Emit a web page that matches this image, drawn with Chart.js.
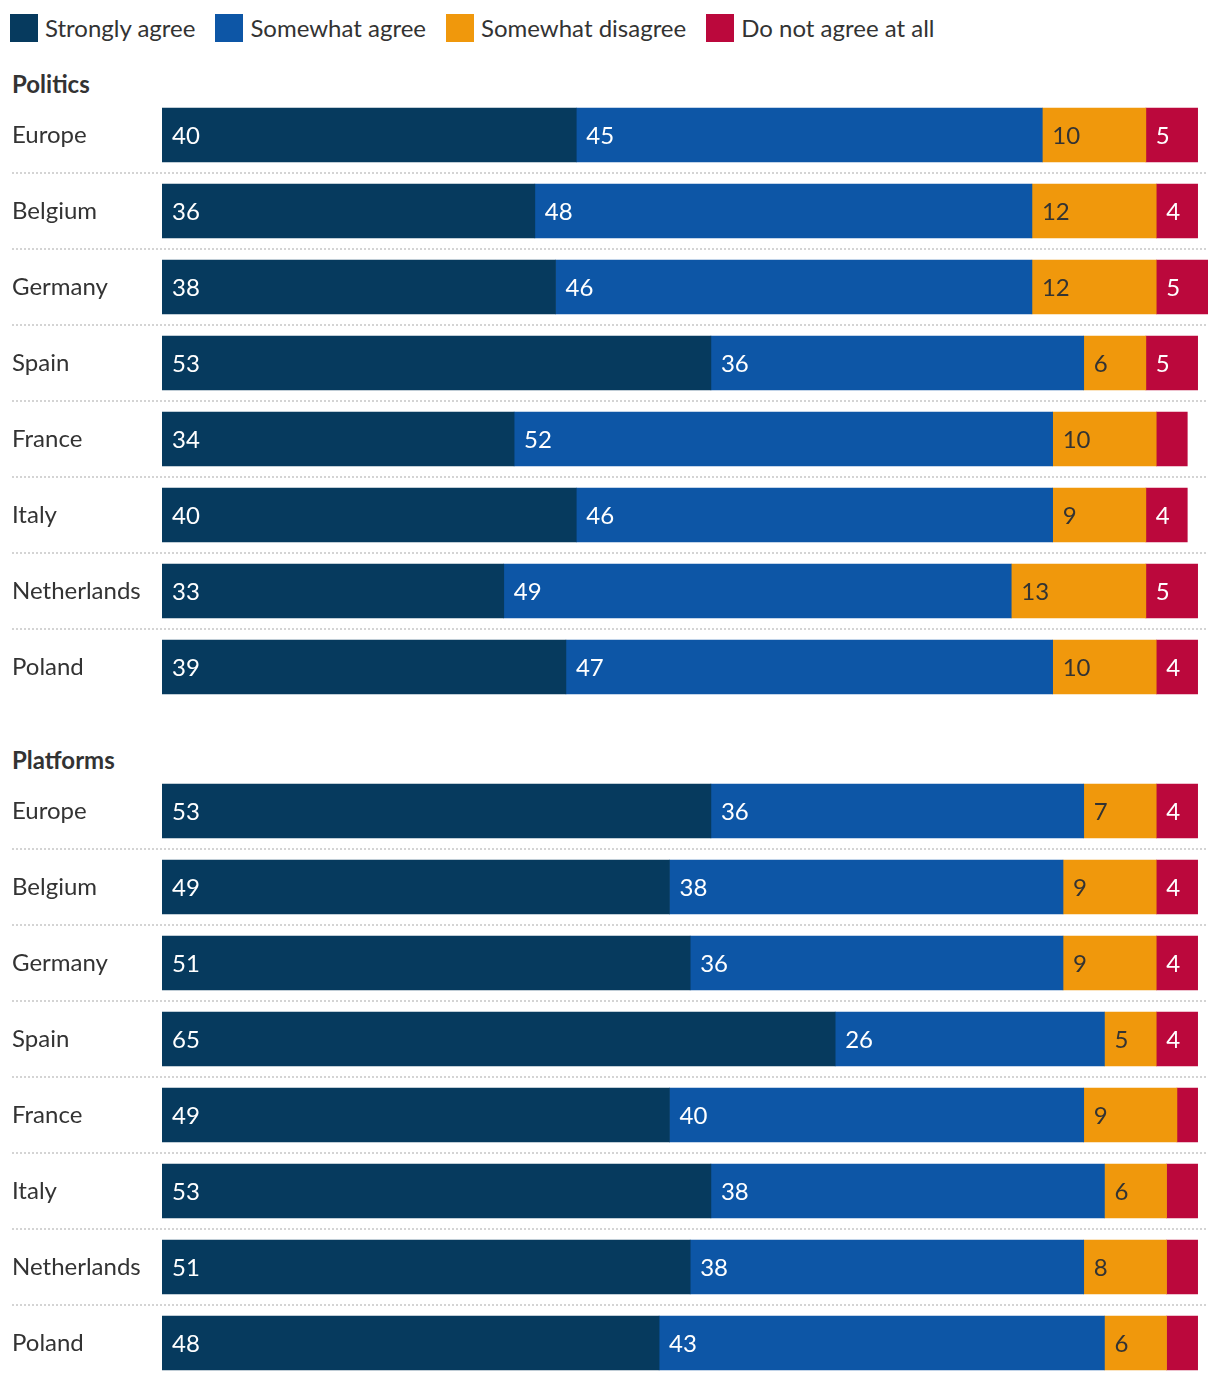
<!DOCTYPE html>
<html>
<head>
<meta charset="utf-8">
<script src="https://cdn.jsdelivr.net/npm/chart.js@4"></script>
<style>
  body { margin: 0; background: #fff; font-family: Lato, sans-serif; color: #333; }
  #page { position: relative; width: 1220px; height: 1382px; }
  #legend { position: absolute; left: 10px; top: 14px; display: flex; }
  .item { display: flex; align-items: center; margin-right: 20px; font-size: 24px; line-height: 28px; }
  .box { width: 28px; height: 28px; margin-right: 7px; }
  .head { position: absolute; left: 12px; font-weight: bold; font-size: 24px; line-height: 28px; }
  .wrap { position: absolute; left: 0; width: 1220px; height: 608px; }
</style>
</head>
<body>
<div id="page">
  <div id="legend"></div>
  <div class="head" style="top:70px">Politics</div>
  <div class="wrap" style="top:97px"><canvas id="politics" width="1220" height="608"></canvas></div>
  <div class="head" style="top:746px">Platforms</div>
  <div class="wrap" style="top:773px"><canvas id="platforms" width="1220" height="608"></canvas></div>
</div>
<script>
"use strict";

// data
var countries = ["Europe", "Belgium", "Germany", "Spain", "France", "Italy", "Netherlands", "Poland"];
var seriesNames = ["Strongly agree", "Somewhat agree", "Somewhat disagree", "Do not agree at all"];
var seriesColors = ["#063a5e", "#0d56a6", "#f0980c", "#bb083c"];
var labelColors = ["#ffffff", "#ffffff", "#333333", "#ffffff"];

var politicsStrongly = [40, 36, 38, 53, 34, 40, 33, 39];
var politicsSomewhat = [45, 48, 46, 36, 52, 46, 49, 47];
var politicsDisagree = [10, 12, 12, 6, 10, 9, 13, 10];
var politicsNotAtAll = [5, 4, 5, 5, 3, 4, 5, 4];

var platformsStrongly = [53, 49, 51, 65, 49, 53, 51, 48];
var platformsSomewhat = [36, 38, 36, 26, 40, 38, 38, 43];
var platformsDisagree = [7, 9, 9, 5, 9, 6, 8, 6];
var platformsNotAtAll = [4, 4, 4, 4, 2, 3, 3, 3];

// legend
var legend = document.getElementById("legend");
seriesNames.forEach(function (name, i) {
    var item = document.createElement("div");
    item.className = "item";
    var box = document.createElement("div");
    box.className = "box";
    box.style.background = seriesColors[i];
    item.appendChild(box);
    item.appendChild(document.createTextNode(name));
    legend.appendChild(item);
});

// dotted lines between rows
var separators = {
    id: "separators",
    beforeDatasetsDraw: function (chart) {
        var ctx = chart.ctx;
        var y = chart.scales.y;
        ctx.save();
        ctx.strokeStyle = "#d4d4d4";
        ctx.lineWidth = 2;
        ctx.setLineDash([2, 2]);
        for (var i = 0; i < countries.length - 1; i++) {
            var py = Math.round((y.getPixelForValue(i) + y.getPixelForValue(i + 1)) / 2);
            ctx.beginPath();
            ctx.moveTo(12, py);
            ctx.lineTo(chart.chartArea.right, py);
            ctx.stroke();
        }
        ctx.restore();
    }
};

// values inside the bars
var barLabels = {
    id: "barLabels",
    afterDatasetsDraw: function (chart) {
        var ctx = chart.ctx;
        ctx.save();
        ctx.font = "24px Lato";
        ctx.textAlign = "left";
        ctx.textBaseline = "middle";
        chart.data.datasets.forEach(function (ds, di) {
            chart.getDatasetMeta(di).data.forEach(function (bar, i) {
                var v = ds.data[i];
                if (v < 4) return;
                ctx.fillStyle = labelColors[di];
                ctx.fillText(String(v), bar.base + 10, bar.y + 1);
            });
        });
        ctx.restore();
    }
};

function makeChart(id, values) {
    var ctx = document.getElementById(id).getContext("2d");
    return new Chart(ctx, {
        type: "bar",
        data: {
            labels: countries,
            datasets: values.map(function (v, i) {
                return {
                    label: seriesNames[i],
                    data: v,
                    backgroundColor: seriesColors[i],
                    borderWidth: 0,
                    barThickness: 54
                };
            })
        },
        options: {
            indexAxis: "y",
            responsive: false,
            animation: false,
            events: [],
            layout: { padding: { left: 12, right: 12, top: 0, bottom: 0 } },
            plugins: {
                legend: { display: false },
                tooltip: { enabled: false }
            },
            scales: {
                x: {
                    stacked: true,
                    display: false,
                    min: 0,
                    max: 101
                },
                y: {
                    stacked: true,
                    grid: { display: false },
                    border: { display: false },
                    ticks: {
                        crossAlign: "far",
                        padding: 0,
                        color: "#333",
                        font: { family: "Lato", size: 24 }
                    },
                    afterFit: function (scale) {
                        scale.width = 150;
                        scale.paddingTop = 0;
                        scale.paddingBottom = 0;
                    }
                }
            }
        },
        plugins: [separators, barLabels]
    });
}

makeChart("politics", [politicsStrongly, politicsSomewhat, politicsDisagree, politicsNotAtAll]);
makeChart("platforms", [platformsStrongly, platformsSomewhat, platformsDisagree, platformsNotAtAll]);
</script>
</body>
</html>
